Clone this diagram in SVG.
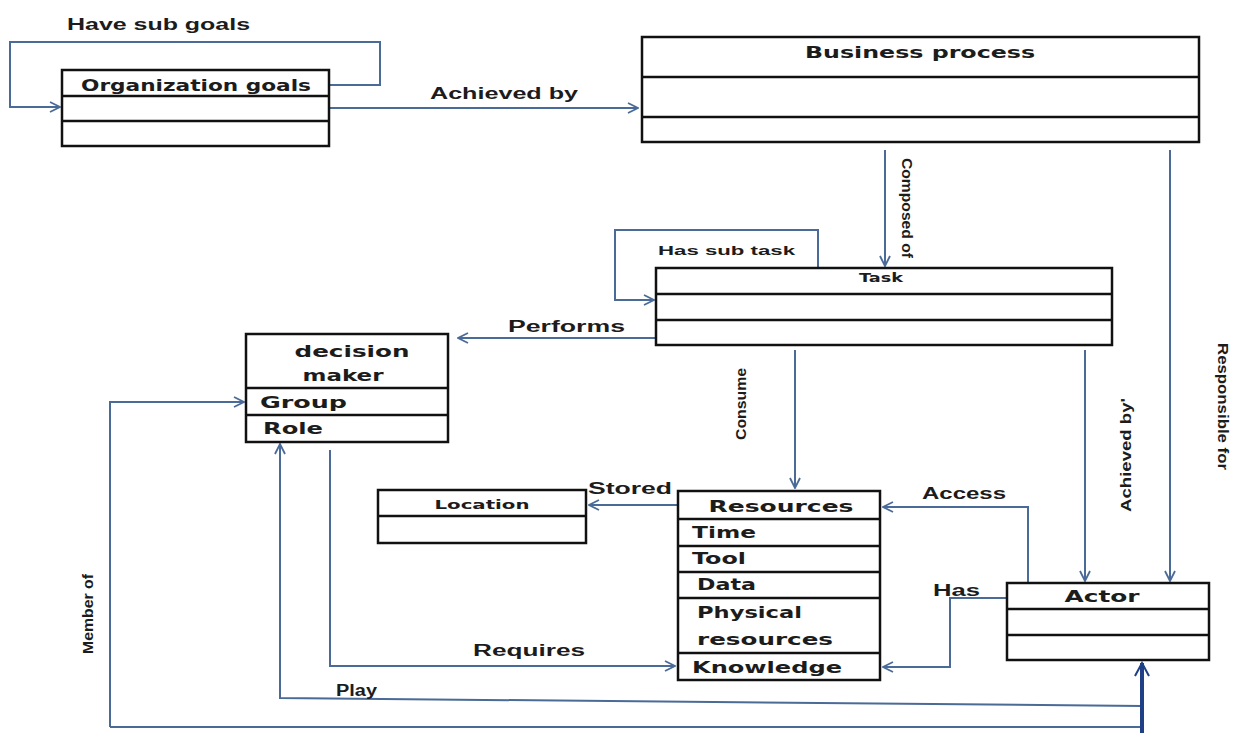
<svg xmlns="http://www.w3.org/2000/svg" width="1236" height="733" viewBox="0 0 1236 733">
  <style>
    .box { fill: #ffffff; stroke: #111111; stroke-width: 2.5; }
    .div { stroke: #111111; stroke-width: 2.5; }
    .conn { fill: none; stroke: #4a6a98; stroke-width: 2; }
    .thick { fill: none; stroke: #1f3f86; stroke-width: 4; }
    .t { font-family: "DejaVu Sans", "Liberation Sans", sans-serif; font-weight: bold; fill: #1c1c1c; }
    .lab { font-family: "Liberation Sans", "DejaVu Sans", sans-serif; font-weight: bold; fill: #1c1c1c; }
  </style>
  <defs>
    <marker id="open" viewBox="0 0 12 12" refX="11" refY="6" markerWidth="12" markerHeight="12" markerUnits="userSpaceOnUse" orient="auto">
      <path d="M1,1 L11,6 L1,11" fill="none" stroke="#4a6a98" stroke-width="1.8"/>
    </marker>
    <marker id="openBig" viewBox="0 0 16 16" refX="14" refY="8" markerWidth="16" markerHeight="16" markerUnits="userSpaceOnUse" orient="auto">
      <path d="M1,1 L14,8 L1,15" fill="none" stroke="#1f3f86" stroke-width="2"/>
    </marker>
  </defs>
  <rect width="1236" height="733" fill="#ffffff"/>

  <!-- connectors -->
  <g id="connectors">
    <!-- Have sub goals -->
    <path class="conn" d="M329,85 H380 V42 H10 V107 H60" marker-end="url(#open)"/>
    <!-- Achieved by (goals -> process) -->
    <path class="conn" d="M329,108 H638" marker-end="url(#open)"/>
    <!-- Composed of -->
    <path class="conn" d="M885,150 V266" marker-end="url(#open)"/>
    <!-- Responsible for -->
    <path class="conn" d="M1170,150 V581" marker-end="url(#open)"/>
    <!-- Has sub task -->
    <path class="conn" d="M818,268 V230 H615 V300 H654" marker-end="url(#open)"/>
    <!-- Performs -->
    <path class="conn" d="M656,338 H458" marker-end="url(#open)"/>
    <!-- Consume -->
    <path class="conn" d="M795,350 V488" marker-end="url(#open)"/>
    <!-- Achieved by (task -> actor) -->
    <path class="conn" d="M1085,350 V581" marker-end="url(#open)"/>
    <!-- Stored -->
    <path class="conn" d="M678,505 H589" marker-end="url(#open)"/>
    <!-- Access -->
    <path class="conn" d="M1028,583 V507 H883" marker-end="url(#open)"/>
    <!-- Has -->
    <path class="conn" d="M1007,598 H950 V667 H883" marker-end="url(#open)"/>
    <!-- Requires -->
    <path class="conn" d="M330,450 V666 H675" marker-end="url(#open)"/>
    <!-- Member of -->
    <path class="conn" d="M110,727 V402 H244" marker-end="url(#open)"/>
    <path class="conn" d="M110,727 H1142"/>
    <!-- Play -->
    <path class="conn" d="M1142,706 L280,698 V444" marker-end="url(#open)"/>
    <!-- shared stem into Actor -->
    <path class="thick" d="M1142,733 V663" marker-end="url(#openBig)"/>

    <text class="lab" x="67" y="30" font-size="16" textLength="183" lengthAdjust="spacingAndGlyphs">Have sub goals</text>
    <text class="lab" x="430" y="99" font-size="16" textLength="148" lengthAdjust="spacingAndGlyphs">Achieved by</text>
    <text class="lab" font-size="14" transform="translate(902,158) rotate(90)" textLength="100" lengthAdjust="spacingAndGlyphs">Composed of</text>
    <text class="lab" font-size="15" transform="translate(1218,343) rotate(90)" textLength="127" lengthAdjust="spacingAndGlyphs">Responsible for</text>
    <text class="lab" x="658" y="255" font-size="13" textLength="137" lengthAdjust="spacingAndGlyphs">Has sub task</text>
    <text class="lab" x="508" y="332" font-size="16" textLength="117" lengthAdjust="spacingAndGlyphs">Performs</text>
    <text class="lab" font-size="15" transform="translate(746,440) rotate(-90)" textLength="72" lengthAdjust="spacingAndGlyphs">Consume</text>
    <text class="lab" font-size="15" transform="translate(1131,512) rotate(-90)" textLength="114" lengthAdjust="spacingAndGlyphs">Achieved by'</text>
    <text class="lab" x="588" y="494" font-size="16" textLength="84" lengthAdjust="spacingAndGlyphs">Stored</text>
    <text class="lab" x="922" y="499" font-size="16" textLength="84" lengthAdjust="spacingAndGlyphs">Access</text>
    <text class="lab" x="933" y="596" font-size="16" textLength="47" lengthAdjust="spacingAndGlyphs">Has</text>
    <text class="lab" x="473" y="656" font-size="16" textLength="112" lengthAdjust="spacingAndGlyphs">Requires</text>
    <text class="lab" x="336" y="696" font-size="16" textLength="41" lengthAdjust="spacingAndGlyphs">Play</text>
    <text class="lab" font-size="14" transform="translate(93,654) rotate(-90)" textLength="80" lengthAdjust="spacingAndGlyphs">Member of</text>
  </g>

  <!-- Organization goals -->
  <g id="organization-goals">
    <rect class="box" x="62" y="70" width="267" height="76"/>
    <line class="div" x1="62" y1="96" x2="329" y2="96"/>
    <line class="div" x1="62" y1="121" x2="329" y2="121"/>
    <text class="t" x="196" y="91" font-size="16" text-anchor="middle" textLength="230" lengthAdjust="spacingAndGlyphs">Organization goals</text>
  </g>

  <!-- Business process -->
  <g id="business-process">
    <rect class="box" x="642" y="37" width="557" height="105"/>
    <line class="div" x1="642" y1="77" x2="1199" y2="77"/>
    <line class="div" x1="642" y1="117" x2="1199" y2="117"/>
    <text class="t" x="920" y="58" font-size="16" text-anchor="middle" textLength="230" lengthAdjust="spacingAndGlyphs">Business process</text>
  </g>

  <!-- Task -->
  <g id="task">
    <rect class="box" x="656" y="268" width="456" height="77"/>
    <line class="div" x1="656" y1="294" x2="1112" y2="294"/>
    <line class="div" x1="656" y1="320" x2="1112" y2="320"/>
    <text class="t" x="881" y="282" font-size="12" text-anchor="middle" textLength="44" lengthAdjust="spacingAndGlyphs">Task</text>
  </g>

  <!-- decision maker -->
  <g id="decision-maker">
    <rect class="box" x="246" y="334" width="202" height="108"/>
    <line class="div" x1="246" y1="388" x2="448" y2="388" stroke-width="3.5"/>
    <line class="div" x1="246" y1="415" x2="448" y2="415" stroke-width="3"/>
    <text class="t" x="352" y="357" font-size="16" text-anchor="middle" textLength="115" lengthAdjust="spacingAndGlyphs">decision</text>
    <text class="t" x="343" y="381" font-size="16" text-anchor="middle" textLength="81" lengthAdjust="spacingAndGlyphs">maker</text>
    <text class="t" x="260" y="408" font-size="16" textLength="87" lengthAdjust="spacingAndGlyphs">Group</text>
    <text class="t" x="263" y="434" font-size="16" textLength="60" lengthAdjust="spacingAndGlyphs">Role</text>
  </g>

  <!-- Location -->
  <g id="location">
    <rect class="box" x="378" y="490" width="208" height="53"/>
    <line class="div" x1="378" y1="516" x2="586" y2="516"/>
    <text class="t" x="482" y="509" font-size="13" text-anchor="middle" textLength="95" lengthAdjust="spacingAndGlyphs">Location</text>
  </g>

  <!-- Resources -->
  <g id="resources">
    <rect class="box" x="678" y="491" width="202" height="189"/>
    <line class="div" x1="678" y1="519" x2="880" y2="519"/>
    <line class="div" x1="678" y1="546" x2="880" y2="546"/>
    <line class="div" x1="678" y1="572" x2="880" y2="572"/>
    <line class="div" x1="678" y1="598" x2="880" y2="598"/>
    <line class="div" x1="678" y1="653" x2="880" y2="653"/>
    <text class="t" x="781" y="512" font-size="15" text-anchor="middle" textLength="145" lengthAdjust="spacingAndGlyphs">Resources</text>
    <text class="t" x="692" y="538" font-size="15" textLength="64" lengthAdjust="spacingAndGlyphs">Time</text>
    <text class="t" x="692" y="564" font-size="15" textLength="54" lengthAdjust="spacingAndGlyphs">Tool</text>
    <text class="t" x="697" y="590" font-size="15" textLength="59" lengthAdjust="spacingAndGlyphs">Data</text>
    <text class="t" x="697" y="618" font-size="15" textLength="105" lengthAdjust="spacingAndGlyphs">Physical</text>
    <text class="t" x="697" y="645" font-size="15" textLength="136" lengthAdjust="spacingAndGlyphs">resources</text>
    <text class="t" x="692" y="673" font-size="15" textLength="150" lengthAdjust="spacingAndGlyphs">Knowledge</text>
  </g>

  <!-- Actor -->
  <g id="actor">
    <rect class="box" x="1007" y="583" width="202" height="77"/>
    <line class="div" x1="1007" y1="609" x2="1209" y2="609"/>
    <line class="div" x1="1007" y1="635" x2="1209" y2="635"/>
    <text class="t" x="1102" y="602" font-size="15" text-anchor="middle" textLength="75" lengthAdjust="spacingAndGlyphs">Actor</text>
  </g>
</svg>
